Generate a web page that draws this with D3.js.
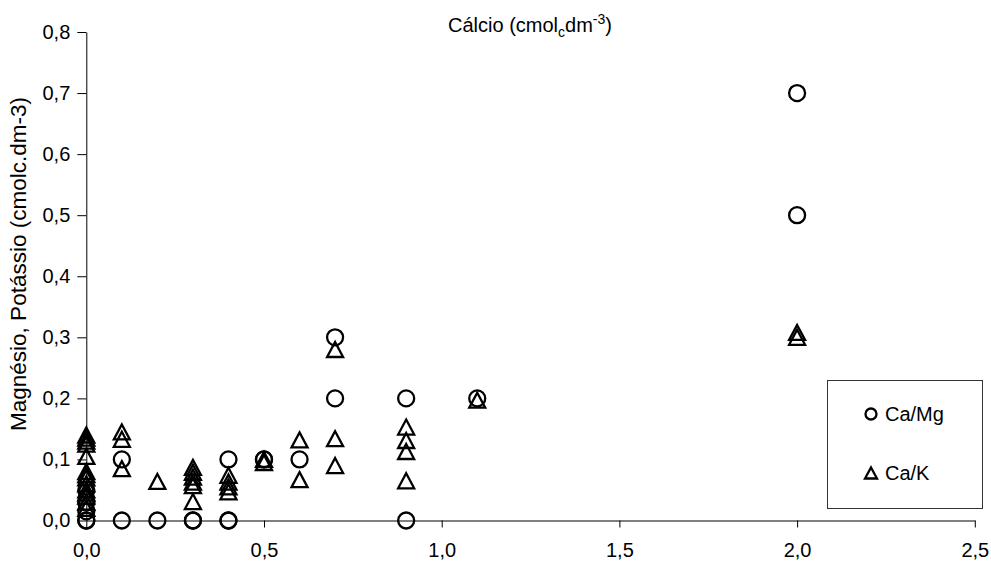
<!DOCTYPE html>
<html>
<head>
<meta charset="utf-8">
<script src="https://cdn.jsdelivr.net/npm/d3@7"></script>
<style>
  html, body { margin: 0; padding: 0; background: #fff; }
  svg { display: block; font-family: "Liberation Sans", Arial, sans-serif; }
</style>
</head>
<body>
<svg id="chart" width="991" height="561"></svg>
<script>
// Ca/Mg pairs (calcium on x, magnesium on y)
const caMgX = [0, 0, 0, 0, 0, 0.1, 0.1, 0.2, 0.3, 0.3, 0.4, 0.4, 0.4, 0.5, 0.5, 0.6, 0.7, 0.7, 0.9, 0.9, 1.1, 2.0, 2.0];
const caMgY = [0, 0, 0.015, 0.03, 0.05, 0.1, 0, 0, 0, 0, 0.1, 0, 0, 0.1, 0.1, 0.1, 0.3, 0.2, 0.2, 0, 0.2, 0.7, 0.5];

// Ca/K pairs (calcium on x, potassium on y)
const caKX = [0, 0, 0, 0, 0, 0, 0, 0, 0, 0, 0, 0, 0, 0,
              0.1, 0.1, 0.1, 0.2,
              0.3, 0.3, 0.3, 0.3, 0.3, 0.3,
              0.4, 0.4, 0.4, 0.4,
              0.5, 0.5, 0.6, 0.6,
              0.7, 0.7, 0.7,
              0.9, 0.9, 0.9, 0.9,
              1.1, 2.0, 2.0];
const caKY = [0.14, 0.135, 0.13, 0.125, 0.105, 0.08, 0.075, 0.07, 0.06, 0.05, 0.045, 0.04, 0.03, 0.02,
              0.145, 0.133, 0.085, 0.064,
              0.087, 0.079, 0.071, 0.063, 0.057, 0.031,
              0.074, 0.063, 0.055, 0.047,
              0.1, 0.095, 0.132, 0.067,
              0.28, 0.134, 0.09,
              0.153, 0.131, 0.113, 0.065,
              0.197, 0.30, 0.308];

const xTicks = [0, 0.5, 1.0, 1.5, 2.0, 2.5];
const yTicks = [0, 0.1, 0.2, 0.3, 0.4, 0.5, 0.6, 0.7, 0.8];
const seriesNames = ["Ca/Mg", "Ca/K"];

const svg = d3.select("#chart");
const fontSize = 20;

const x = d3.scaleLinear().domain([0, 2.5]).range([86.3, 974.8]);
const y = d3.scaleLinear().domain([0, 0.8]).range([520.5, 32]);

const fmt = v => d3.format(".1f")(v).replace(".", ",");

// y axis
const gy = svg.append("g")
  .attr("transform", `translate(${x(0)},0)`)
  .call(d3.axisLeft(y).tickValues(yTicks).tickFormat(fmt).tickSize(9).tickPadding(7).tickSizeOuter(0));
gy.select(".domain").attr("stroke", "#000");
gy.selectAll(".tick line").attr("stroke", "#000");
gy.selectAll(".tick text").attr("font-size", fontSize).attr("font-family", "Liberation Sans, Arial, sans-serif").attr("fill", "#000");

// x axis
const gx = svg.append("g")
  .attr("transform", `translate(0,${y(0)})`)
  .call(d3.axisBottom(x).tickValues(xTicks).tickFormat(fmt).tickSize(7).tickPadding(15).tickSizeOuter(0));
gx.select(".domain").attr("stroke", "#000");
gx.selectAll(".tick line").attr("stroke", "#000");
gx.selectAll(".tick text").attr("font-size", fontSize).attr("font-family", "Liberation Sans, Arial, sans-serif").attr("fill", "#000");

// markers
const triW = 18, triH = 17;
const triPath = (w, h) => `M0,${-h / 2}L${w / 2},${h / 2}L${-w / 2},${h / 2}Z`;

const caK = caKX.map((v, i) => ({ x: v, y: caKY[i] }));
const caMg = caMgX.map((v, i) => ({ x: v, y: caMgY[i] }));

svg.append("g").selectAll("circle")
  .data(caMg).join("circle")
  .attr("cx", d => x(d.x)).attr("cy", d => y(d.y))
  .attr("r", 8)
  .attr("fill", "none").attr("stroke", "#000").attr("stroke-width", 2.3);

svg.append("g").selectAll("path")
  .data(caK).join("path")
  .attr("transform", d => `translate(${x(d.x)},${y(d.y)})`)
  .attr("d", triPath(triW - 2, triH - 2))
  .attr("fill", "none").attr("stroke", "#000").attr("stroke-width", 2.3)
  .attr("stroke-linejoin", "miter");

// title along the top
const title = svg.append("text")
  .attr("x", 530).attr("y", 32)
  .attr("text-anchor", "middle")
  .attr("font-size", fontSize).attr("fill", "#000");
title.append("tspan").text("Cálcio (cmol");
title.append("tspan").attr("font-size", 14).attr("dy", 5).text("c");
title.append("tspan").attr("dy", -5).text("dm");
title.append("tspan").attr("font-size", 14).attr("dy", -8).text("-3");
title.append("tspan").attr("dy", 8).text(")");

// y axis title
svg.append("text")
  .attr("transform", `translate(26,264) rotate(-90)`)
  .attr("text-anchor", "middle")
  .attr("font-size", 22.5).attr("fill", "#000")
  .text("Magnésio, Potássio (cmolc.dm-3)");

// legend
const lg = svg.append("g");
lg.append("rect")
  .attr("x", 827.5).attr("y", 380.5).attr("width", 155).attr("height", 128)
  .attr("fill", "#fff").attr("stroke", "#333").attr("stroke-width", 1);
const items = [{ name: seriesNames[0], cy: 414, shape: "circle" }, { name: seriesNames[1], cy: 473, shape: "tri" }];
items.forEach(it => {
  if (it.shape === "circle") {
    lg.append("circle").attr("cx", 871).attr("cy", it.cy).attr("r", 5.5)
      .attr("fill", "none").attr("stroke", "#000").attr("stroke-width", 2.3);
  } else {
    lg.append("path").attr("transform", `translate(871,${it.cy})`).attr("d", triPath(12, 11))
      .attr("fill", "none").attr("stroke", "#000").attr("stroke-width", 2.3);
  }
  lg.append("text").attr("x", 885).attr("y", it.cy + 7)
    .attr("font-size", fontSize).attr("fill", "#000").text(it.name);
});
</script>
</body>
</html>
